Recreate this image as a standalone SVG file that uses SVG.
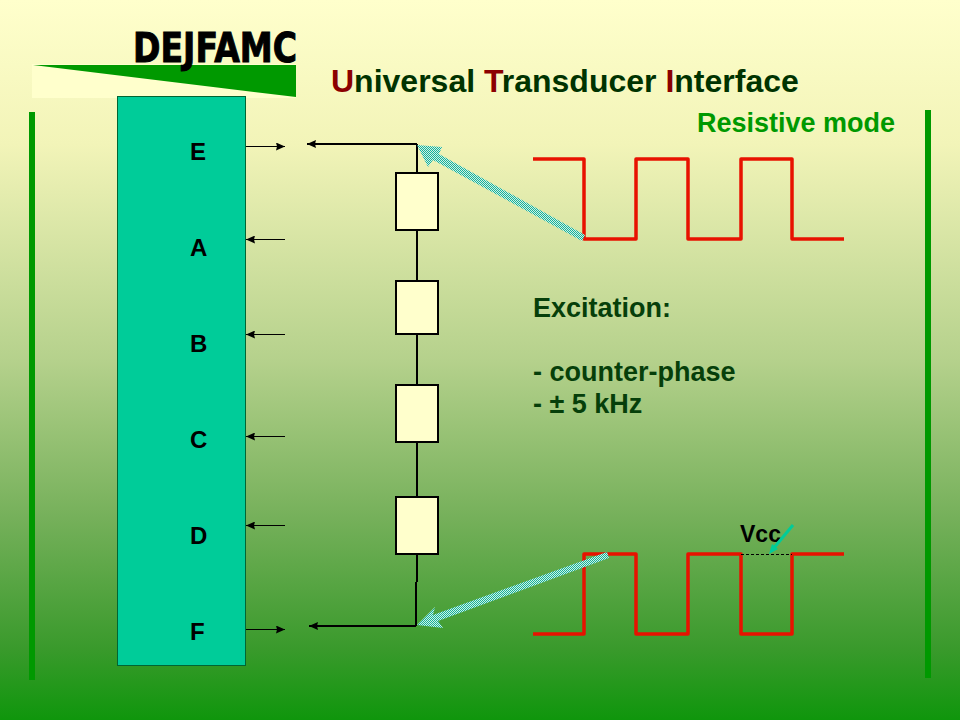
<svg xmlns="http://www.w3.org/2000/svg" width="960" height="720" viewBox="0 0 960 720">
<style>
.lab{font:bold 24px "Liberation Sans",Arial,sans-serif;fill:#000}
.txt{font:bold 27px "Liberation Sans",Arial,sans-serif;fill:#063f0a}
.title{font:bold 32px "Liberation Sans",Arial,sans-serif;fill:#003300}
.thin{stroke:#000;stroke-width:1;fill:none}
.wire{stroke:#000;stroke-width:2;fill:none}
.res{fill:#ffffcc;stroke:#000;stroke-width:2}
.wave{fill:none;stroke:#e81200;stroke-width:3.500;stroke-linejoin:round}
.rail{fill:#009900}
.big{fill:url(#chk)}
</style>
<defs>
<linearGradient id="bg" x1="0" y1="0" x2="0" y2="1">
<stop offset="0" stop-color="#ffffcc"/>
<stop offset=".2" stop-color="#f2f4b8"/>
<stop offset=".5" stop-color="#b5d18c"/>
<stop offset=".72" stop-color="#75b05a"/>
<stop offset=".9" stop-color="#3a9a2c"/>
<stop offset="1" stop-color="#0f960c"/>
</linearGradient>
<pattern id="chk" patternUnits="userSpaceOnUse" width="2" height="2"><rect width="2" height="2" fill="#d2f2e2"/><rect width="1" height="1" fill="#14b09c"/><rect x="1" y="1" width="1" height="1" fill="#14b09c"/></pattern>
<marker id="ah" markerUnits="userSpaceOnUse" markerWidth="10" markerHeight="8" refX="9" refY="4" orient="auto"><path d="M0 0L9 4L0 8L1 4Z" fill="#000"/></marker>
</defs>
<rect width="960" height="720" fill="url(#bg)"/>
<g id="logo">
<rect x="32" y="64" width="264" height="34" fill="#ffffcc"/>
<path d="M33 65H296V97Z" fill="#009900"/>
<text x="133" y="62" textLength="164" lengthAdjust="spacingAndGlyphs" style="font:bold 40px 'DejaVu Sans',sans-serif" fill="#000" stroke="#000" stroke-width="1">DEJFAMC</text>
</g>
<text class="title" x="331" y="92"><tspan fill="#8b0000">U</tspan>niversal <tspan fill="#8b0000">T</tspan>ransducer <tspan fill="#8b0000">I</tspan>nterface</text>
<text x="697" y="132" style="font:bold 27px 'Liberation Sans',sans-serif" fill="#009900">Resistive mode</text>
<rect class="rail" x="29" y="112" width="6" height="568"/>
<rect class="rail" x="925" y="110" width="6" height="568"/>
<g id="chip">
<rect x="117.500" y="96.500" width="128" height="569" fill="#00cc99" stroke="#063" stroke-width="1"/>
<text class="lab" x="190" y="160">E</text>
<text class="lab" x="190" y="256">A</text>
<text class="lab" x="190" y="352">B</text>
<text class="lab" x="190" y="448">C</text>
<text class="lab" x="190" y="544">D</text>
<text class="lab" x="190" y="640">F</text>
</g>
<g id="connectors">
<path class="thin" marker-end="url(#ah)" d="M246 146.500H285"/>
<path class="thin" marker-end="url(#ah)" d="M285 239.500H246"/>
<path class="thin" marker-end="url(#ah)" d="M285 334.500H246"/>
<path class="thin" marker-end="url(#ah)" d="M285 436.500H246"/>
<path class="thin" marker-end="url(#ah)" d="M285 525.500H246"/>
<path class="thin" marker-end="url(#ah)" d="M246 629.500H285"/>
<path class="wire" marker-end="url(#ah)" d="M417 144H307"/>
<path class="wire" d="M417 144V173M417 230V281M417 334V385M417 442V497M417 554V582M416 582V626"/>
<path class="wire" marker-end="url(#ah)" d="M416 626H309"/>
</g>
<g id="r1"><rect class="res" x="396" y="173" width="42" height="57"/></g>
<g id="r2"><rect class="res" x="396" y="281" width="42" height="53"/></g>
<g id="r3"><rect class="res" x="396" y="385" width="42" height="57"/></g>
<g id="r4"><rect class="res" x="396" y="497" width="42" height="57"/></g>
<g id="wave-top"><path class="wave" d="M533 159H584V239H636V159H688V239H741V159H792V239H844"/></g>
<g id="wave-bottom"><path class="wave" d="M533 634H584V554H636V634H688V554H741V634H792V554H844"/></g>
<g id="excitation-arrows">
<path class="big" d="M585 235L582 241L433 160L428 167L417 145L442 147L439 154Z"/>
<path class="big" d="M607 552L609 558L438 621L443 628L417 625L435 607L433 615Z"/>
</g>
<g id="vcc">
<text x="740" y="542" style="font:bold 23px 'Liberation Sans',sans-serif" fill="#000">Vcc</text>
<path d="M741 554.500H792" stroke="#000" stroke-width="1" stroke-dasharray="3 2"/>
<path d="M793 525L773 549" stroke="#00cc99" stroke-width="3"/>
<path d="M769 554L778 549L772 544Z" fill="#00cc99"/>
</g>
<g class="notes">
<text class="txt" x="533" y="317">Excitation:</text>
<text class="txt" x="533" y="381">- counter-phase</text>
<text class="txt" x="533" y="413">- ± 5 kHz</text>
</g>
</svg>
